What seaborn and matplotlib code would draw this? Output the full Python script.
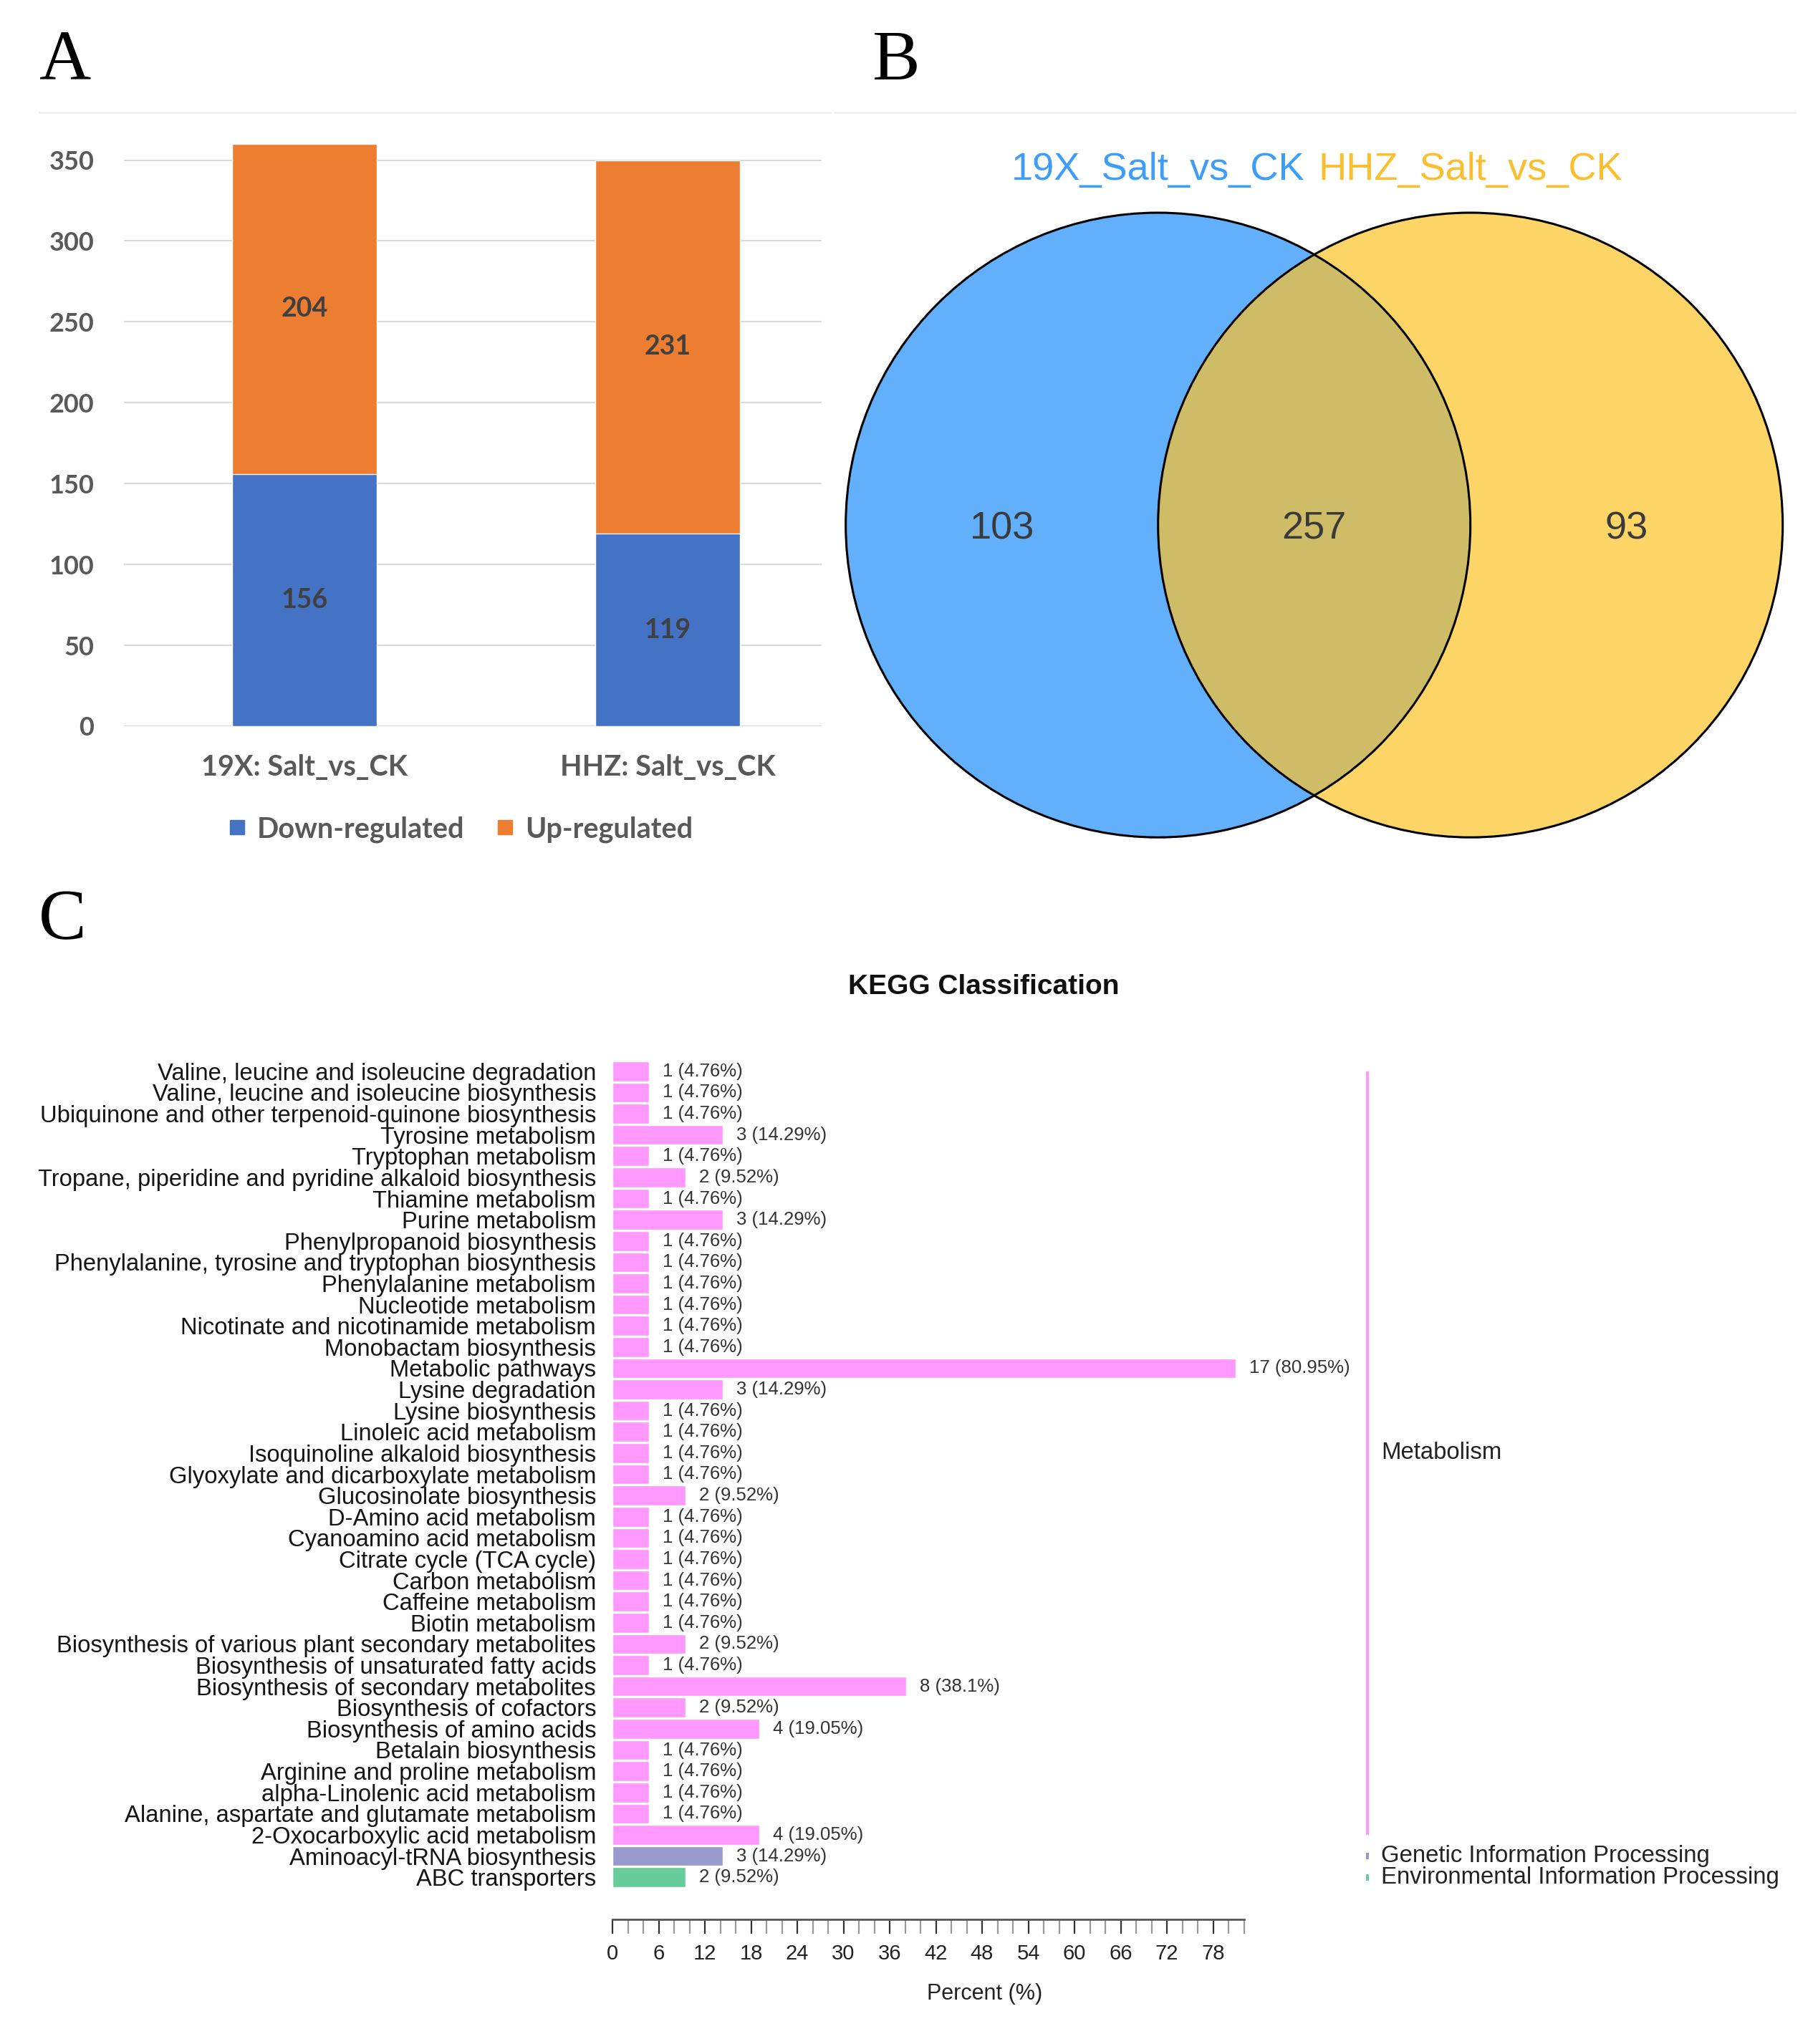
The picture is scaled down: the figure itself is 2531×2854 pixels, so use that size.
import numpy as np
import pandas as pd
import matplotlib
matplotlib.use('Agg')
import matplotlib.pyplot as plt
import matplotlib.transforms as mtransforms
from matplotlib.patches import Circle
from matplotlib.lines import Line2D
import seaborn as sns

# ---- panel A data
comparisons = ['19X: Salt_vs_CK', 'HHZ: Salt_vs_CK']
down_reg = [156, 119]
up_reg = [204, 231]

# ---- panel B data
venn_names = ['19X_Salt_vs_CK', 'HHZ_Salt_vs_CK']
venn_counts = [103, 257, 93]   # left only, shared, right only

# ---- panel C data
kegg_terms = [
    'Valine, leucine and isoleucine degradation',
    'Valine, leucine and isoleucine biosynthesis',
    'Ubiquinone and other terpenoid-quinone biosynthesis',
    'Tyrosine metabolism',
    'Tryptophan metabolism',
    'Tropane, piperidine and pyridine alkaloid biosynthesis',
    'Thiamine metabolism',
    'Purine metabolism',
    'Phenylpropanoid biosynthesis',
    'Phenylalanine, tyrosine and tryptophan biosynthesis',
    'Phenylalanine metabolism',
    'Nucleotide metabolism',
    'Nicotinate and nicotinamide metabolism',
    'Monobactam biosynthesis',
    'Metabolic pathways',
    'Lysine degradation',
    'Lysine biosynthesis',
    'Linoleic acid metabolism',
    'Isoquinoline alkaloid biosynthesis',
    'Glyoxylate and dicarboxylate metabolism',
    'Glucosinolate biosynthesis',
    'D-Amino acid metabolism',
    'Cyanoamino acid metabolism',
    'Citrate cycle (TCA cycle)',
    'Carbon metabolism',
    'Caffeine metabolism',
    'Biotin metabolism',
    'Biosynthesis of various plant secondary metabolites',
    'Biosynthesis of unsaturated fatty acids',
    'Biosynthesis of secondary metabolites',
    'Biosynthesis of cofactors',
    'Biosynthesis of amino acids',
    'Betalain biosynthesis',
    'Arginine and proline metabolism',
    'alpha-Linolenic acid metabolism',
    'Alanine, aspartate and glutamate metabolism',
    '2-Oxocarboxylic acid metabolism',
    'Aminoacyl-tRNA biosynthesis',
    'ABC transporters',
]
kegg_counts = [1, 1, 1, 3, 1, 2, 1, 3, 1, 1, 1, 1, 1, 1, 17, 3, 1, 1, 1, 1,
               2, 1, 1, 1, 1, 1, 1, 2, 1, 8, 2, 4, 1, 1, 1, 1, 4, 3, 2]
kegg_percent = [4.76, 4.76, 4.76, 14.29, 4.76, 9.52, 4.76, 14.29, 4.76, 4.76,
                4.76, 4.76, 4.76, 4.76, 80.95, 14.29, 4.76, 4.76, 4.76, 4.76,
                9.52, 4.76, 4.76, 4.76, 4.76, 4.76, 4.76, 9.52, 4.76, 38.1,
                9.52, 19.05, 4.76, 4.76, 4.76, 4.76, 19.05, 14.29, 9.52]
kegg_groups = ['Metabolism'] * 37 + ['Genetic Information Processing',
                                     'Environmental Information Processing']
group_order = ['Metabolism', 'Genetic Information Processing',
               'Environmental Information Processing']
group_colors = {'Metabolism': '#FF99FF',
                'Genetic Information Processing': '#9999CC',
                'Environmental Information Processing': '#66CC99'}

W, H = 2531, 2854
sns.set_theme(style='white')
plt.rcParams['font.family'] = ['Liberation Sans', 'DejaVu Sans']

fig = plt.figure(figsize=(W / 100, H / 100), dpi=100)

# faint separator lines at the top of panels A and B
fig.add_artist(Line2D([55 / W, 1160 / W], [1 - 157 / H] * 2, color='#F0F0F0', lw=2))
fig.add_artist(Line2D([1165 / W, 2506 / W], [1 - 157 / H] * 2, color='#F0F0F0', lw=2))

# panel letters
for letter, px, py in [('A', 91, 86), ('B', 1250, 86), ('C', 87, 1286)]:
    fig.text(px / W, 1 - py / H, letter, fontsize=72, ha='center', va='center',
             family='Liberation Serif', color='black')

# ================= A: stacked bars
ax_a = fig.add_axes([173 / W, 1 - 1014 / H, (1147 - 173) / W, (1014 - 201) / H])
df_a = pd.DataFrame({'comp': comparisons, 'down': down_reg, 'up': up_reg})
df_a['total'] = df_a['down'] + df_a['up']
sns.barplot(data=df_a, x='comp', y='total', color='#ED7D31', width=0.4,
            saturation=1, ax=ax_a)
sns.barplot(data=df_a, x='comp', y='down', color='#4472C4', width=0.4,
            saturation=1, ax=ax_a)
ax_a.set_xlim(-0.497, 1.424)
ax_a.set_ylim(0, 360)
ax_a.set_yticks(range(0, 351, 50))
ax_a.yaxis.grid(True, color='#D9D9D9', lw=1.6)
ax_a.set_axisbelow(True)
for s in ax_a.spines.values():
    s.set_visible(False)
ax_a.set_xlabel('')
ax_a.set_ylabel('')
ax_a.tick_params(axis='both', length=0, labelsize=26, labelcolor='#595959')
ax_a.tick_params(axis='y', pad=30)
ax_a.tick_params(axis='x', pad=28, labelsize=28.5)
for lab in ax_a.get_xticklabels() + ax_a.get_yticklabels():
    lab.set_fontfamily('Lato')
    lab.set_fontweight('bold')
for i, (d, u) in enumerate(zip(down_reg, up_reg)):
    ax_a.text(i, d / 2, str(d), ha='center', va='center', fontsize=27,
              family='Lato', weight='bold', color='#404040')
    ax_a.text(i, d + u / 2, str(u), ha='center', va='center', fontsize=27,
              family='Lato', weight='bold', color='#404040')

leg_handles = [Line2D([], [], marker='s', ls='', color='#4472C4', markersize=15),
               Line2D([], [], marker='s', ls='', color='#ED7D31', markersize=15)]
fig.legend(leg_handles, ['Down-regulated', 'Up-regulated'], loc='center',
           bbox_to_anchor=(642 / W, 1 - 1158 / H), ncol=2, frameon=False,
           prop={'family': 'Lato', 'weight': 'bold', 'size': 28.5},
           labelcolor='#595959', handlelength=0.7, handletextpad=0.35,
           columnspacing=1.1)

# ================= B: Venn
ax_b = fig.add_axes([1100 / W, 1 - 1300 / H, 1431 / W, 1170 / H])
ax_b.set_xlim(-1.685, 1.597)
ax_b.set_ylim(-1.300, 1.383)
ax_b.axis('off')
ax_b.add_patch(Circle((-0.5, 0), 1, fc='#62AFFB', ec='none'))
ax_b.add_patch(Circle((0.5, 0), 1, fc='#FDD567', ec='none'))
lens = Circle((0.5, 0), 1, fc='#CFBC67', ec='none')
ax_b.add_patch(lens)
lens.set_clip_path(Circle((-0.5, 0), 1, transform=ax_b.transData))
for cx in (-0.5, 0.5):
    ax_b.add_patch(Circle((cx, 0), 1, fc='none', ec='black', lw=2.2))
ax_b.text(-0.5, 1.137, venn_names[0], ha='center', va='center', fontsize=39,
          color='#3D9DF8')
ax_b.text(0.5, 1.137, venn_names[1], ha='center', va='center', fontsize=39,
          color='#FBBE2E')
for xpos, n in zip((-1.0, 0.0, 1.0), venn_counts):
    ax_b.text(xpos, -0.012, str(n), ha='center', va='center', fontsize=39,
              color='#3A3A3A')

# ================= C: KEGG classification
ax_c = fig.add_axes([855 / W, 1 - 2636 / H, 881.5 / W, 1155 / H])
df_c = pd.DataFrame({'term': kegg_terms, 'count': kegg_counts,
                     'percent': kegg_percent, 'group': kegg_groups})
sns.barplot(data=df_c, x='percent', y='term', hue='group', hue_order=group_order,
            palette=group_colors, dodge=False, width=0.93, saturation=1,
            legend=False, orient='h', ax=ax_c)
ax_c.set_xlim(0, 82)
ax_c.set_ylim(len(kegg_terms) - 0.5, -0.5)
ax_c.set_xlabel('')
ax_c.set_ylabel('')
for side in ('left', 'top', 'right'):
    ax_c.spines[side].set_visible(False)
ax_c.spines['bottom'].set_position(('outward', 31.7))
ax_c.spines['bottom'].set_color('#555555')
ax_c.spines['bottom'].set_linewidth(2)
ax_c.set_xticks(np.arange(0, 79, 6))
ax_c.set_xticks([v for v in range(0, 83, 2) if v % 6 != 0], minor=True)
ax_c.tick_params(axis='x', which='major', bottom=True, direction='out',
                 length=14.4, width=1.6, color='#333333', labelsize=21, pad=10,
                 labelcolor='#222222')
ax_c.tick_params(axis='x', which='minor', bottom=True, direction='out',
                 length=14.4, width=1.6, color='#9A9A9A')
ax_c.tick_params(axis='y', length=0, labelsize=23.6, pad=16.5, labelcolor='#151515')

for i, (c, p) in enumerate(zip(kegg_counts, kegg_percent)):
    ax_c.annotate(f'{c} ({p:g}%)', xy=(p, i), xytext=(13.7, 0),
                  textcoords='offset points', ha='left', va='center',
                  fontsize=18.5, color='#333333')

# group brackets on the right
trans = mtransforms.blended_transform_factory(ax_c.transAxes, ax_c.transData)
for g in group_order:
    rows = [i for i, gg in enumerate(kegg_groups) if gg == g]
    y0, y1 = min(rows), max(rows)
    if y0 == y1:
        y0, y1 = y0 - 0.15, y1 + 0.15
    ax_c.plot([1.1957, 1.1957], [y0, y1], color=group_colors[g], lw=2.9,
              transform=trans, clip_on=False, solid_capstyle='butt')
    ax_c.text(1.2173, (y0 + y1) / 2, g, transform=trans, ha='left', va='center',
              fontsize=23.7, color='#222222', clip_on=False)

fig.text(1373 / W, 1 - 1378 / H, 'KEGG Classification', ha='center',
         va='center', fontsize=28, weight='bold', color='#111111')
fig.text(1375 / W, 1 - 2784 / H, 'Percent (%)', ha='center', va='center',
         fontsize=22, color='#222222')

fig.savefig('out.png', dpi=100, facecolor='white')
